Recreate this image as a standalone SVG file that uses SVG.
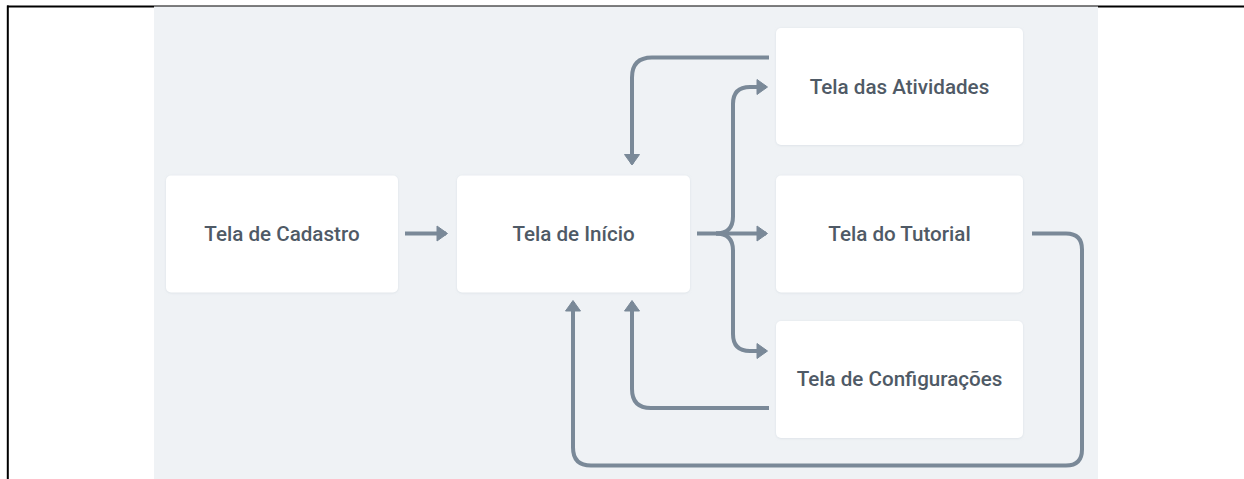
<svg xmlns="http://www.w3.org/2000/svg" width="1244" height="479" viewBox="0 0 1244 479">
  <style>
    .node rect { fill: #ffffff; filter: url(#sh); }
    .node text { font-family: Roboto, "Liberation Sans", Arial, sans-serif; font-weight: 500; font-size: 20.6px; fill: #4f5a66; text-anchor: middle; }
    .conn path { fill: none; stroke: #7a8998; stroke-width: 4; stroke-linejoin: round; }
  </style>
  <defs>
    <filter id="sh" x="-5%" y="-10%" width="110%" height="120%">
      <feDropShadow dx="0" dy="0.5" stdDeviation="1" flood-color="#c9d2da" flood-opacity="0.6"/>
    </filter>
    <marker id="arr" markerUnits="userSpaceOnUse" markerWidth="14" markerHeight="18" refX="9" refY="8" orient="auto" overflow="visible">
      <path d="M0,0.5 L10.5,8 L0,15.5 Z" fill="#7a8998" stroke="#7a8998" stroke-width="1" stroke-linejoin="round"/>
    </marker>
  </defs>

  <rect x="0" y="0" width="1244" height="479" fill="#ffffff"/>
  <rect x="7" y="5.5" width="1237" height="2" fill="#000000"/>
  <rect x="6.8" y="5.5" width="2" height="474" fill="#000000"/>
  <rect x="154" y="6.5" width="944" height="473" fill="#eff2f5"/>

  <g class="conn" id="connectors">
    <path d="M405,233.5 H446" marker-end="url(#arr)"/>
    <path d="M769,57.5 H652 Q632,57.5 632,77.5 V163.5" marker-end="url(#arr)"/>
    <path d="M697,233.5 H766" marker-end="url(#arr)"/>
    <path d="M716,233.5 Q733,233.5 733,216.5 V104 Q733,87 750,87 H766" marker-end="url(#arr)"/>
    <path d="M716,233.5 Q733,233.5 733,250.5 V334 Q733,351 750,351 H766" marker-end="url(#arr)"/>
    <path d="M769,408 H651 Q632,408 632,389 V302" marker-end="url(#arr)"/>
    <path d="M1032,233.5 H1066 Q1082,233.5 1082,249.5 V449.5 Q1082,465.5 1066,465.5 H591 Q573,465.5 573,447.5 V302" marker-end="url(#arr)"/>
  </g>

  <g class="node" id="tela-cadastro">
    <rect x="166" y="175.5" width="232" height="117" rx="5"/>
    <text x="282" y="240.5">Tela de Cadastro</text>
  </g>
  <g class="node" id="tela-inicio">
    <rect x="457" y="175.5" width="233" height="117" rx="5"/>
    <text x="573.5" y="240.5">Tela de Início</text>
  </g>
  <g class="node" id="tela-atividades">
    <rect x="776" y="28" width="247" height="117" rx="5"/>
    <text x="899.5" y="94">Tela das Atividades</text>
  </g>
  <g class="node" id="tela-tutorial">
    <rect x="776" y="175.5" width="247" height="117" rx="5"/>
    <text x="899.5" y="240.5">Tela do Tutorial</text>
  </g>
  <g class="node" id="tela-configuracoes">
    <rect x="776" y="321" width="247" height="117" rx="5"/>
    <text x="899.5" y="386">Tela de Configurações</text>
  </g>
</svg>
